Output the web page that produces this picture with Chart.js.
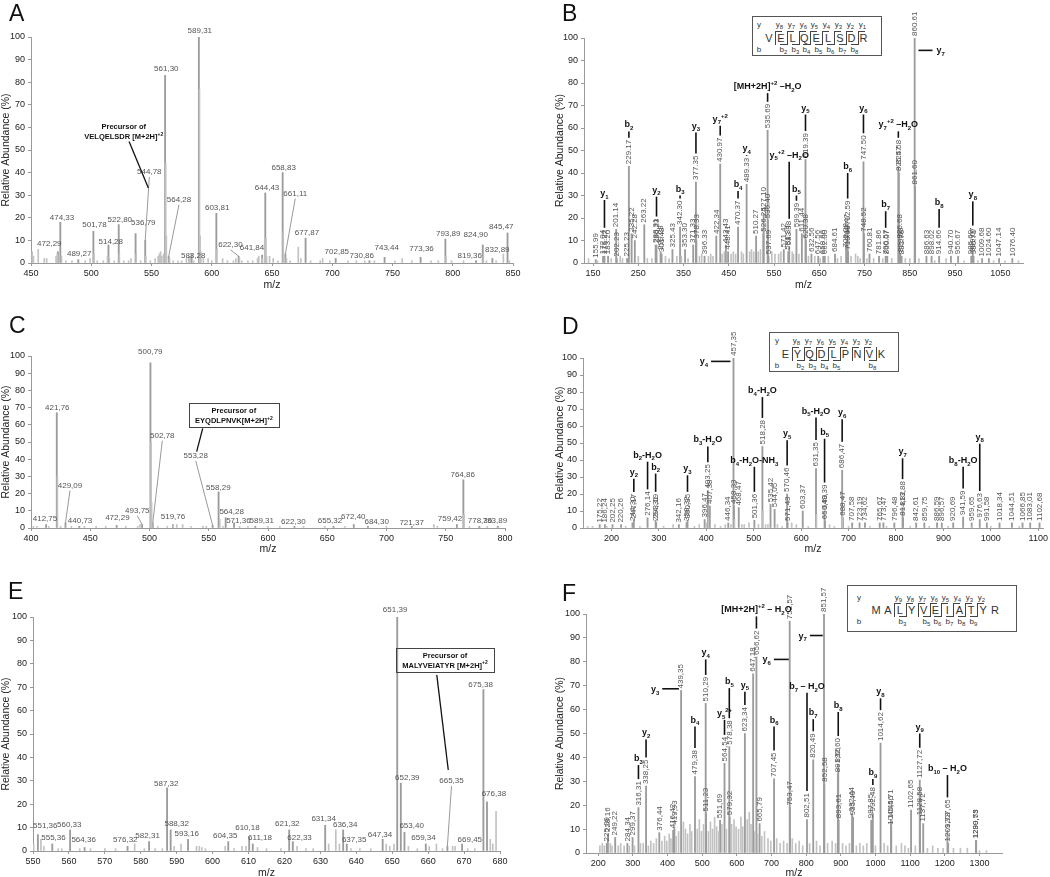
<!DOCTYPE html>
<html>
<head>
<meta charset="utf-8">
<title>MS/MS spectra A-F</title>
<script src="https://cdn.jsdelivr.net/npm/chart.js@4.4.1/dist/chart.umd.min.js"></script>
<style>
  html, body { margin: 0; padding: 0; background: #fff; }
  #fig { position: relative; width: 1050px; height: 877px; overflow: hidden; font-family: "Liberation Sans", Arial, sans-serif; -webkit-font-smoothing: antialiased; }
  #fig canvas { position: absolute; }
  .letter { position: absolute; font-size: 23px; line-height: 23px; color: #111; z-index: 2; }
  .inset { position: absolute; border: 1px solid #555; background: #fff; z-index: 2; box-sizing: border-box; }
  .inset span { position: absolute; transform: translate(-50%, -50%); white-space: nowrap; color: #333; line-height: 1; }
  .inset .res { font-size: 11px; }
  .inset .ion { font-size: 8px; }
  .inset sub { font-size: 6px; vertical-align: -2px; }
  .inset i { position: absolute; background: #444; }
</style>
</head>
<body>
<div id="fig">
  <canvas id="chartA"></canvas>
  <canvas id="chartB"></canvas>
  <canvas id="chartC"></canvas>
  <canvas id="chartD"></canvas>
  <canvas id="chartE"></canvas>
  <canvas id="chartF"></canvas>
  <div class="letter" style="left:9px;top:2px">A</div>
  <div class="letter" style="left:562px;top:2px">B</div>
  <div class="letter" style="left:9px;top:314px">C</div>
  <div class="letter" style="left:562px;top:315px">D</div>
  <div class="letter" style="left:8px;top:580px">E</div>
  <div class="letter" style="left:562px;top:582px">F</div>
  <div class="inset" id="seqB"></div>
  <div class="inset" id="seqD"></div>
  <div class="inset" id="seqF"></div>
</div>
<script>
const FONT = '"Liberation Sans", Arial, sans-serif'
Chart.defaults.font.family = FONT
Chart.defaults.color = '#222'

const yTicks = [0, 10, 20, 30, 40, 50, 60, 70, 80, 90, 100]

// ---- panel A : MS of VELQELSDR precursor region
const aTicks = [450, 500, 550, 600, 650, 700, 750, 800, 850]
const aPeakMz = [472.29, 474.33, 489.27, 501.78, 514.28, 522.80, 536.79, 544.78, 561.30, 564.28, 583.28, 589.31, 603.81, 622.30, 641.84, 644.43, 658.83, 661.11, 677.87, 702.85, 730.86, 743.44, 773.36, 793.89, 819.36, 824.90, 832.89, 845.47]
const aPeakAbund = [5, 18, 1.5, 14, 8, 17, 13, 10, 83, 3, 4, 100, 22, 3, 3.5, 31, 40, 4, 11, 2, 1, 2.5, 2.5, 10.6, 1, 8, 2, 13.3]
const aLabelMz = [465.2, 475.7, 490, 502.7, 516.2, 523.7, 543.2, 548.2, 562.3, 572.8, 584.6, 590.1, 604.5, 615.5, 633.4, 645.9, 659.7, 669.3, 679, 703.8, 724.5, 745.2, 774.1, 796.2, 814.1, 819.1, 837, 840.3]
const aLabelAbund = [8.4, 19.9, 4.1, 16.7, 9.3, 18.9, 18, 40.3, 86, 28, 3, 102.8, 24.3, 8.1, 6.6, 33.2, 42.3, 30.7, 13.3, 4.9, 3, 6.6, 6.2, 13, 3.2, 12.4, 5.9, 15.9]
const aLeaders = [544.78, 564.28, 661.11, 622.30]
const aMinor = [[451, 5], [452, 3], [456, 6], [461, 2], [463, 2], [470.8, 3], [471.8, 4], [475.3, 3], [479, 1], [484, 1], [495, 1], [499, 2], [502.3, 4], [505, 1], [510, 1], [513.5, 3], [515, 2], [519, 1], [523.3, 4], [527, 1], [531, 1], [533, 2], [537.3, 4], [541, 1], [545.3, 3], [549, 1], [553, 2], [555.5, 3], [556.5, 4], [557.5, 5], [558.5, 3], [560, 4], [561.8, 44], [562.3, 12], [565, 2], [568, 1], [572, 1], [575, 1], [579, 2], [581, 3], [582, 3], [585, 1], [589.81, 77], [590.3, 12], [591, 5], [593, 2], [597, 2], [600, 1], [604.3, 6], [609, 2], [613, 1], [618, 1], [620, 2], [623, 2], [625, 1], [630, 1], [634, 1], [638, 2], [639, 3], [642, 2], [644.93, 11], [645.5, 3], [648, 3], [651, 2], [655, 1], [659.33, 14], [662, 2], [665, 1], [671.8, 7], [674, 2], [682, 1], [690, 1], [692, 2], [698, 1], [713, 1], [720, 1], [727, 1], [735, 1], [752, 1], [758, 2], [766, 1], [782, 1], [788, 1], [794.4, 3], [799, 1], [809, 1], [825.4, 3], [828, 1], [836, 1], [842, 4], [847, 1]]
const aNotes = [{ lines: ['Precursor of', 'VELQELSDR [M+2H]^{+2}'], x: 527, y: 58.3, box: false, leader: [531.4, 53.8, 547.4, 33.2] }]

// ---- panel B : MS/MS of VELQELSDR
const bTicks = [150, 250, 350, 450, 550, 650, 750, 850, 950, 1050]
const bPeakMz = [155.99, 172.04, 175.22, 183.20, 201.14, 202.23, 225.23, 229.17, 235.22, 242.28, 263.22, 288.31, 290.23, 299.28, 301.48, 325.43, 342.30, 353.30, 371.33, 377.35, 378.33, 396.33, 422.34, 430.97, 443.43, 448.41, 470.37, 489.33, 510.27, 526.24, 527.10, 535.69, 536.40, 537.69, 571.42, 581.34, 583.38, 599.39, 611.44, 619.39, 620.38, 632.56, 647.56, 658.66, 662.00, 684.61, 709.28, 710.47, 712.59, 713.58, 747.50, 748.52, 760.81, 781.86, 796.57, 800.07, 824.58, 825.57, 826.68, 829.03, 831.76, 860.61, 861.60, 886.63, 898.02, 914.66, 940.70, 956.67, 985.69, 989.07, 990.71, 1009.68, 1024.60, 1047.14, 1076.40]
const bPeakAbund = [1.5, 3, 3, 3, 15, 2, 2, 43, 13, 10, 17, 8, 8, 5, 4, 6, 16, 6, 8, 36, 10, 3, 12, 44, 8, 5, 16, 35, 12, 13, 22, 59, 19, 3, 6, 5, 7, 15, 13, 46, 10, 4, 3, 3, 3, 4, 6, 10, 16, 5, 45, 13, 4, 3, 3, 3, 43, 40, 10, 4, 3, 100, 34, 3, 3, 3, 3, 3, 3, 4, 3, 2, 2, 2, 2]
const bMinor = [[140, 2], [160, 1], [190, 2], [210, 3], [215, 2], [250, 3], [270, 2], [280, 2], [310, 3], [318, 2], [335, 3], [345, 3], [360, 2], [385, 3], [390, 4], [405, 3], [410, 4], [415, 3], [435, 4], [440, 5], [455, 4], [460, 5], [465, 4], [478, 5], [482, 4], [496, 5], [500, 6], [505, 5], [515, 5], [520, 6], [545, 5], [552, 4], [560, 4], [565, 5], [590, 5], [593, 4], [605, 4], [626, 3], [640, 3], [652, 2], [670, 3], [690, 2], [698, 3], [720, 3], [730, 4], [735, 3], [740, 2], [755, 2], [770, 2], [790, 2], [810, 2], [840, 2], [850, 2], [870, 2], [905, 1], [930, 2], [970, 1], [1000, 1], [1035, 1], [1060, 1], [1090, 1]]
const bIons = [['y_{1}', 175.22, 28], ['b_{2}', 229.17, 58.5], ['y_{2}', 290.23, 29.5], ['b_{3}', 342.30, 30], ['y_{3}', 377.35, 58], ['y_{7}^{+2}', 430.97, 61], ['b_{4}', 470.37, 32], ['y_{4}', 489.33, 48], ['[MH+2H]^{+2} \u2013H_{2}O', 535.69, 75.5], ['y_{5}^{+2} \u2013H_{2}O', 583.38, 45], ['b_{5}', 599.39, 30], ['y_{5}', 619.39, 66], ['b_{6}', 712.59, 40], ['y_{6}', 747.50, 66], ['b_{7}', 796.57, 23], ['y_{7}^{+2} \u2013H_{2}O', 824.58, 58.5], ['b_{8}', 914.66, 24], ['y_{8}', 989.07, 27.4]]
const bHIons = [{ text: 'y_{7}', y: 94.5, x1: 869, x2: 900, side: 'right' }]
const bResidues = ['V', 'E', 'L', 'Q', 'E', 'L', 'S', 'D', 'R']
const bYSeq = [8, 7, 6, 5, 4, 3, 2, 1]
const bBSeq = [null, 2, 3, 4, 5, 6, 7, 8]

// ---- panel C : MS of EYQDLPNVK precursor region
const cTicks = [400, 450, 500, 550, 600, 650, 700, 750, 800]
const cPeakMz = [412.75, 421.76, 429.09, 440.73, 472.29, 493.75, 500.79, 502.78, 519.76, 553.28, 558.29, 564.28, 571.36, 589.31, 622.30, 655.32, 672.40, 684.30, 721.37, 759.42, 764.86, 778.36, 793.89]
const cPeakAbund = [2, 67, 3, 1, 1.5, 2, 96, 3, 2, 1.5, 21, 6, 3, 1, 1, 1, 2, 1, 1, 2, 28, 1, 1]
const cLabelMz = [411.8, 422.2, 432.9, 441.4, 472.9, 489.7, 500.7, 510.8, 519.8, 539, 558.1, 569.3, 575, 594.7, 621.4, 652.3, 672, 691.7, 721.2, 753.6, 764.3, 778.9, 791.5]
const cLabelAbund = [5.2, 70, 24.7, 4.4, 6, 10, 102.7, 53.7, 6.8, 42, 23.4, 9.5, 4, 4, 3.7, 4, 6.8, 3.7, 2.9, 5.6, 30.9, 4, 4]
const cLeaders = [429.09, 493.75, 502.78, 553.28]
const cMinor = [[402, 1], [405, 1], [415, 1], [422.3, 30], [425, 1], [434, 1], [445, 1], [455, 1], [463, 1], [480, 1], [490, 1], [492, 2], [501.3, 50], [501.8, 15], [507, 1], [515, 1], [520, 2], [523, 2], [528, 2], [535, 1], [545, 1], [548, 1], [559.3, 5], [562, 1], [576, 1], [583, 1], [600, 1], [610, 1], [630, 1], [648, 1], [665, 1], [700, 1], [740, 2], [743, 1], [765.4, 8], [770, 1], [785, 1]]
const cNotes = [{ lines: ['Precursor of', 'EYQDLPNVK[M+2H]^{+2}'], x: 571.2, y: 65.6, box: true, leader: [544.9, 57.9, 539.8, 44.4] }]

// ---- panel D : MS/MS of EYQDLPNVK
const dTicks = [200, 300, 400, 500, 600, 700, 800, 900, 1000, 1100]
const dPeakMz = [175.22, 186.24, 202.25, 220.26, 244.30, 247.17, 276.14, 293.19, 294.31, 342.16, 358.32, 360.35, 396.47, 403.25, 407.38, 446.34, 457.35, 458.33, 468.47, 501.36, 518.28, 535.42, 544.05, 570.46, 571.43, 603.37, 631.35, 649.39, 650.40, 686.47, 688.47, 707.58, 723.19, 734.62, 765.67, 773.47, 796.48, 813.88, 814.82, 842.61, 859.75, 886.59, 896.57, 920.69, 941.59, 959.65, 976.63, 991.58, 1018.34, 1044.51, 1066.85, 1083.01, 1102.68]
const dPeakAbund = [2, 2, 2, 2, 3, 4.5, 6, 4.5, 3, 2, 3, 4.5, 5, 22, 13, 3, 100, 13, 12, 4.5, 48, 14, 11, 20, 3, 10, 35, 10, 4, 34, 6, 3, 3, 3, 3, 3, 3, 12, 6, 3, 3, 3, 3, 3, 6.5, 3, 5, 3, 3, 3, 3, 3, 3]
const dMinor = [[150, 1], [160, 1], [190, 1], [230, 1], [260, 1], [310, 1], [330, 2], [375, 1], [385, 2], [400, 3], [404.3, 6], [418, 2], [430, 1], [440, 2], [452, 2], [459.3, 5], [475, 2], [480, 2], [490, 3], [510, 2], [519.3, 10], [525, 2], [530, 2], [550, 2], [560, 1], [580, 3], [590, 2], [615, 1], [632.3, 8], [660, 2], [670, 1], [687.5, 8], [700, 1], [745, 1], [780, 1], [830, 1], [870, 1], [910, 1], [960, 1], [1000, 1], [1060, 1]]
const dIons = [['y_{2}', 247.17, 29], ['b_{2}-H_{2}O', 276.14, 39], ['b_{2}', 293.19, 32], ['y_{3}', 360.35, 31], ['b_{3}-H_{2}O', 403.25, 48], ['b_{4}-H_{2}O-NH_{3}', 501.36, 36], ['b_{4}-H_{2}O', 518.28, 77], ['y_{5}', 570.46, 51.6], ['b_{5}-H_{2}O', 631.35, 65], ['b_{5}', 649.39, 52.5], ['y_{6}', 686.47, 64], ['y_{7}', 813.88, 41], ['b_{8}-H_{2}O', 941.59, 36], ['y_{8}', 976.63, 49.6]]
const dHIons = [{ text: 'y_{4}', y: 98, x1: 410, x2: 451, side: 'left' }]
const dResidues = ['E', 'Y', 'Q', 'D', 'L', 'P', 'N', 'V', 'K']
const dYSeq = [8, 7, 6, 5, 4, 3, 2, null]
const dBSeq = [null, 2, 3, 4, 5, null, null, 8]

// ---- panel E : MS of MALYVEIATYR precursor region
const eTicks = [550, 560, 570, 580, 590, 600, 610, 620, 630, 640, 650, 660, 670, 680]
const ePeakMz = [551.36, 555.36, 560.33, 564.36, 576.32, 582.31, 587.32, 588.32, 593.16, 604.35, 610.18, 611.18, 621.32, 622.33, 631.34, 636.34, 637.35, 647.34, 651.39, 652.39, 653.40, 659.34, 665.35, 669.45, 675.38, 676.38]
const ePeakAbund = [7, 3, 9, 1.5, 2, 4, 27, 9, 5, 4, 6, 3, 9, 4, 11, 9, 3, 5, 100, 29, 8, 3, 2, 3, 69, 21]
const eLabelMz = [553.4, 555.7, 560.1, 564.1, 575.7, 581.9, 587.1, 590, 592.8, 603.5, 609.7, 613.2, 620.8, 624.2, 630.9, 636.9, 639.4, 646.6, 650.8, 654.2, 655.4, 658.7, 666.5, 671.6, 674.6, 678.3]
const eLabelAbund = [10.7, 5.7, 11.4, 4.9, 4.9, 6.7, 28.6, 11.7, 7.4, 6.6, 9.9, 5.7, 11.6, 5.7, 13.7, 11.1, 4.9, 7.1, 102.9, 31.1, 10.6, 5.7, 29.9, 4.9, 70.9, 24.6]
const eLeaders = [665.35]
const eMinor = [[550.2, 3], [552.2, 5], [553, 2], [557, 1], [558, 1], [563, 1], [566, 1], [570, 1], [573, 1], [578.3, 3], [581, 1], [584, 1], [586, 1], [589.3, 2], [591.2, 3], [595.5, 2], [596.3, 2], [597, 1.5], [598, 1], [603.5, 2], [606, 1], [608.2, 2], [609.3, 2], [612.5, 1.5], [615, 1], [619, 1], [623.5, 2], [626, 1], [628, 1], [632.3, 3], [634.3, 9], [635.3, 3], [638.5, 1], [641, 1], [644, 1], [648.3, 3], [649.3, 2], [650.5, 3], [654.5, 2], [657, 1], [660.3, 2], [662.3, 3], [664, 1], [666.8, 2], [667.5, 2], [671, 1], [673, 1], [677.3, 5], [678, 3], [678.9, 17]]
const eNotes = [{ lines: ['Precursor of', 'MALYVEIATYR [M+2H]^{+2}'], x: 664.7, y: 81.7, box: true, leader: [662.4, 75.3, 665.6, 34.6] }]

// ---- panel F : MS/MS of MALYVEIATYR
const fTicks = [200, 300, 400, 500, 600, 700, 800, 900, 1000, 1100, 1200, 1300]
const fPeakMz = [225.09, 228.16, 249.22, 284.34, 299.37, 316.31, 338.25, 376.44, 416.42, 419.93, 439.35, 479.38, 510.29, 511.23, 551.69, 564.54, 578.38, 579.32, 623.34, 647.18, 656.62, 665.79, 707.45, 752.57, 753.47, 802.51, 820.49, 851.57, 852.58, 891.56, 892.60, 893.61, 932.44, 935.40, 987.85, 992.48, 1014.62, 1044.71, 1045.56, 1102.65, 1127.72, 1128.58, 1137.72, 1207.65, 1209.73, 1289.73, 1290.55]
const fPeakAbund = [4, 8, 6.5, 4, 6.5, 19, 28, 8.5, 9.5, 11, 68, 32, 62.6, 16.5, 13.7, 37.5, 44.5, 15, 50, 75, 82, 12.3, 31, 97, 19, 14, 39, 100, 29, 33, 37, 13.7, 16.5, 15, 13.7, 16.5, 46, 13.7, 11, 18, 30.5, 15, 12.3, 9.5, 4, 5.3, 5.3]
const fMinor = [[205, 3], [212, 4], [218, 3], [235, 4], [240, 3], [258, 3], [265, 4], [275, 3], [290, 3], [305, 3], [322, 4], [330, 4], [345, 3], [352, 5], [360, 4], [368, 6], [384, 5], [392, 7], [398, 5], [405, 8], [410, 6], [425, 7], [432, 9], [446, 13], [452, 10], [458, 8], [465, 12], [470, 9], [486, 10], [492, 14], [498, 9], [504, 12], [518, 9], [524, 13], [530, 10], [536, 15], [542, 11], [548, 9], [557, 12], [570, 10], [585, 12], [592, 14], [598, 11], [605, 10], [612, 15], [617, 11], [630, 14], [636, 17], [641, 12], [652, 9], [660, 8], [672, 7], [680, 9], [690, 6], [698, 5], [715, 6], [725, 4], [735, 5], [745, 4], [760, 6], [770, 4], [780, 5], [790, 3], [810, 4], [830, 5], [840, 3], [862, 4], [875, 5], [885, 4], [905, 4], [915, 3], [925, 4], [945, 3], [955, 4], [965, 3], [975, 4], [1000, 3], [1025, 4], [1035, 3], [1060, 3], [1075, 4], [1085, 3], [1095, 2], [1115, 3], [1150, 2], [1165, 3], [1180, 2], [1195, 2], [1225, 2], [1245, 2], [1265, 2], [1300, 1], [1320, 1]]
const fIons = [['b_{3}', 316.31, 36.8], ['y_{2}', 338.25, 47.5], ['b_{4}', 479.38, 52.9], ['y_{4}', 510.29, 81], ['y_{5}^{2+}', 564.54, 55.7], ['b_{5}', 578.38, 69], ['y_{5}', 623.34, 67.5], ['[MH+2H]^{+2} \u2013 H_{2}O', 656.62, 99], ['b_{6}', 707.45, 52.9], ['b_{7} \u2013 H_{2}O', 802.51, 67], ['b_{7}', 820.49, 56], ['b_{8}', 892.60, 59], ['b_{9}', 992.48, 31], ['y_{8}', 1014.62, 64.7], ['y_{9}', 1127.72, 50], ['b_{10} \u2013 H_{2}O', 1207.65, 32.6]]
const fHIons = [{ text: 'y_{3}', y: 68.7, x1: 385, x2: 433, side: 'left' }, { text: 'y_{6}', y: 81, x1: 707, x2: 750, side: 'left' }, { text: 'y_{7}', y: 91, x1: 811, x2: 848, side: 'left' }]
const fResidues = ['M', 'A', 'L', 'Y', 'V', 'E', 'I', 'A', 'T', 'Y', 'R']
const fYSeq = [null, 9, 8, 7, 6, 5, 4, 3, 2, null]
const fBSeq = [null, null, 3, null, 5, 6, 7, 8, 9, null]

function fmt(v, sep) {
    return v.toFixed(2).replace('.', sep)
}

// text with _{sub} and ^{sup} parts, bold
function drawRich(ctx, str, x, y, align, size) {
    const parts = []
    const re = /_\{([^}]*)\}|\^\{([^}]*)\}|([^_^]+)/g
    let m
    while ((m = re.exec(str))) {
        if (m[1] !== undefined) parts.push({ t: m[1], k: 'sub' })
        else if (m[2] !== undefined) parts.push({ t: m[2], k: 'sup' })
        else parts.push({ t: m[3], k: 'n' })
    }
    const big = 'bold ' + size + 'px ' + FONT
    const small = 'bold ' + Math.round(size * 0.68) + 'px ' + FONT
    let w = 0
    parts.forEach(p => { ctx.font = p.k === 'n' ? big : small; p.w = ctx.measureText(p.t).width; w += p.w })
    let cx = align === 'center' ? x - w / 2 : align === 'right' ? x - w : x
    ctx.textAlign = 'left'
    ctx.textBaseline = 'alphabetic'
    parts.forEach(p => {
        ctx.font = p.k === 'n' ? big : small
        const dy = p.k === 'sub' ? size * 0.3 : p.k === 'sup' ? -size * 0.45 : 0
        ctx.fillText(p.t, cx, y + dy)
        cx += p.w
    })
    return w
}

function annotate(p) {
    return {
        id: 'annot' + p.id,
        afterDatasetsDraw(chart) {
            const ctx = chart.ctx
            const X = v => chart.scales.x.getPixelForValue(v)
            const Y = v => chart.scales.y.getPixelForValue(v)
            ctx.save()
            const labelTop = {}
            ctx.fillStyle = '#555'
            ctx.strokeStyle = '#999'
            ctx.lineWidth = 1
            p.mz.forEach((m, i) => {
                ctx.font = '8px ' + FONT
                const text = fmt(m, p.sep)
                if (p.vertical) {
                    const x = X(m), y0 = Y(p.abund[i]) - 2
                    const w = ctx.measureText(text).width
                    ctx.save()
                    ctx.translate(x, y0)
                    ctx.rotate(-Math.PI / 2)
                    ctx.textAlign = 'left'
                    ctx.textBaseline = 'middle'
                    ctx.fillText(text, 0, 0)
                    ctx.restore()
                    labelTop[m] = y0 - w
                } else {
                    const lx = X(p.labelMz[i]), ly = Y(p.labelAbund[i])
                    ctx.textAlign = 'center'
                    ctx.textBaseline = 'middle'
                    ctx.fillText(text, lx, ly)
                    if (p.leaders && p.leaders.includes(m)) {
                        ctx.beginPath()
                        ctx.moveTo(lx, ly + 5)
                        ctx.lineTo(X(m), Y(p.abund[i]))
                        ctx.stroke()
                    }
                }
            })
            // ion lines with labels
            ctx.fillStyle = '#111'
            ctx.strokeStyle = '#111'
            ctx.lineWidth = 1.6;
            (p.ions || []).forEach(([text, m, top]) => {
                const x = X(m), yt = Y(top)
                const idx = p.mz.indexOf(m)
                const yb = labelTop[m] !== undefined ? labelTop[m] - 2 : Y(p.abund[idx])
                ctx.beginPath()
                ctx.moveTo(x, yt)
                ctx.lineTo(x, yb)
                ctx.stroke()
                drawRich(ctx, text, x, yt - 4, 'center', 9)
            });
            (p.hIons || []).forEach(h => {
                const y = Y(h.y)
                ctx.beginPath()
                ctx.moveTo(X(h.x1), y)
                ctx.lineTo(X(h.x2), y)
                ctx.stroke()
                if (h.side === 'left') drawRich(ctx, h.text, X(h.x1) - 3, y + 3, 'right', 9)
                else drawRich(ctx, h.text, X(h.x2) + 4, y + 3, 'left', 9)
            });
            // precursor notes
            (p.notes || []).forEach(n => {
                const cx = X(n.x), cy = Y(n.y)
                const lh = 9.5
                const y0 = cy - lh * (n.lines.length - 1) / 2
                let wMax = 0
                n.lines.forEach((t, k) => { wMax = Math.max(wMax, drawRich(ctx, t, cx, y0 + k * lh + 3, 'center', 7.5)) })
                if (n.box) {
                    ctx.lineWidth = 1
                    ctx.strokeStyle = '#444'
                    ctx.strokeRect(Math.round(cx - wMax / 2 - 6) + 0.5, Math.round(y0 - 7) + 0.5, Math.round(wMax + 12), Math.round(lh * n.lines.length + 5))
                }
                ctx.strokeStyle = '#111'
                ctx.lineWidth = 1.3
                ctx.beginPath()
                ctx.moveTo(X(n.leader[0]), Y(n.leader[1]))
                ctx.lineTo(X(n.leader[2]), Y(n.leader[3]))
                ctx.stroke()
            })
            ctx.restore()
        }
    }
}

function buildChart(p) {
    const cv = document.getElementById(p.id)
    const [bx, by, bw, bh] = p.box
    const [L, T, R, B] = p.plot
    cv.width = bw
    cv.height = bh
    Object.assign(cv.style, { left: bx + 'px', top: by + 'px', width: bw + 'px', height: bh + 'px' })
    const half = 6.3
    const padLeft = Math.max(0, p.titleX - bx - half)
    const yW = L - bx - padLeft
    const xH = by + bh - B
    const labeled = p.mz.map((m, i) => ({ x: m, y: p.abund[i] }))
    const minor = p.minor.map(([m, a]) => ({ x: m, y: a }))
    return new Chart(cv, {
        type: 'bar',
        data: {
            datasets: [
                { data: minor, backgroundColor: '#c2c2c2', barThickness: 1, grouped: false },
                { data: labeled, backgroundColor: '#9c9c9c', barThickness: 1.2, grouped: false }
            ]
        },
        options: {
            responsive: false,
            animation: false,
            devicePixelRatio: 1,
            layout: { padding: { left: padLeft, top: T - by, right: bx + bw - R, bottom: 0 } },
            plugins: { legend: { display: false }, tooltip: { enabled: false } },
            scales: {
                x: {
                    type: 'linear', min: p.xMin, max: p.xMax, offset: false,
                    afterBuildTicks: s => { s.ticks = p.xTicks.map(v => ({ value: v })) },
                    afterFit: s => { s.height = xH; s.paddingLeft = 0; s.paddingRight = 0 },
                    grid: { offset: false, drawOnChartArea: false, tickLength: 3, color: '#999' },
                    border: { color: '#999' },
                    ticks: { font: { size: 9 }, padding: 2, maxRotation: 0, autoSkip: false, color: '#222', callback: v => String(v) },
                    title: { display: true, text: 'm/z', font: { size: 10.5 }, padding: 0, color: '#222' }
                },
                y: {
                    min: 0, max: 100,
                    afterBuildTicks: s => { s.ticks = yTicks.map(v => ({ value: v })) },
                    afterFit: s => { s.width = yW; s.paddingTop = 0; s.paddingBottom = 0 },
                    grid: { drawOnChartArea: false, tickLength: 3, color: '#999' },
                    border: { color: '#999' },
                    ticks: { font: { size: 9 }, padding: 3, color: '#222', callback: v => String(v) },
                    title: { display: true, text: 'Relative Abundance (%)', font: { size: 10.5 }, padding: 0, color: '#222' }
                }
            }
        },
        plugins: [annotate(p)]
    })
}

function buildInset(id, box, residues, ySeq, bSeq, x0, step, rows) {
    const el = document.getElementById(id)
    const [bx, by, bw, bh] = box
    Object.assign(el.style, { left: bx + 'px', top: by + 'px', width: bw + 'px', height: bh + 'px' })
    const [rowY, rowRes, rowB, labX] = rows
    const add = (html, cls, x, y) => {
        const s = document.createElement('span')
        s.className = cls
        s.innerHTML = html
        s.style.left = x + 'px'
        s.style.top = y + 'px'
        el.appendChild(s)
    }
    const line = (x, y, w, h) => {
        const d = document.createElement('i')
        Object.assign(d.style, { left: x + 'px', top: y + 'px', width: w + 'px', height: h + 'px' })
        el.appendChild(d)
    }
    add('y', 'ion', labX, rowY)
    add('b', 'ion', labX, rowB)
    residues.forEach((r, i) => add(r, 'res', x0 + i * step, rowRes))
    const top = rowRes - 7, bot = rowRes + 6, stub = Math.round(step * 0.6)
    for (let k = 1; k < residues.length; k++) {
        const yi = ySeq[k - 1], bi = bSeq[k - 1]
        if (yi == null && bi == null) continue
        const cx = Math.round(x0 + (k - 0.5) * step)
        line(cx, top, 1, bot - top + 1)
        if (yi != null) { line(cx, top, stub, 1); add('y<sub>' + yi + '</sub>', 'ion', cx + stub / 2 + 1, rowY) }
        if (bi != null) { line(cx - stub, bot, stub, 1); add('b<sub>' + bi + '</sub>', 'ion', cx - stub / 2, rowB) }
    }
}

buildChart({ id: 'chartA', box: [0, 0, 525, 291], plot: [31, 37, 513, 263], titleX: 6, xMin: 450, xMax: 850, xTicks: aTicks,
    mz: aPeakMz, abund: aPeakAbund, labelMz: aLabelMz, labelAbund: aLabelAbund, leaders: aLeaders, minor: aMinor, sep: ',', notes: aNotes })
buildChart({ id: 'chartB', box: [525, 0, 525, 291], plot: [584, 38, 1023, 263], titleX: 560, xMin: 130, xMax: 1100, xTicks: bTicks,
    mz: bPeakMz, abund: bPeakAbund, minor: bMinor, sep: '.', vertical: true, ions: bIons, hIons: bHIons })
buildChart({ id: 'chartC', box: [0, 290, 525, 265], plot: [31, 356, 505, 528], titleX: 6, xMin: 400, xMax: 800, xTicks: cTicks,
    mz: cPeakMz, abund: cPeakAbund, labelMz: cLabelMz, labelAbund: cLabelAbund, leaders: cLeaders, minor: cMinor, sep: ',', notes: cNotes })
buildChart({ id: 'chartD', box: [525, 290, 525, 265], plot: [583, 358, 1043, 528], titleX: 560, xMin: 140, xMax: 1110, xTicks: dTicks,
    mz: dPeakMz, abund: dPeakAbund, minor: dMinor, sep: ',', vertical: true, ions: dIons, hIons: dHIons })
buildChart({ id: 'chartE', box: [0, 580, 525, 299], plot: [33, 617, 500, 851], titleX: 6, xMin: 550, xMax: 680, xTicks: eTicks,
    mz: ePeakMz, abund: ePeakAbund, labelMz: eLabelMz, labelAbund: eLabelAbund, leaders: eLeaders, minor: eMinor, sep: ',', notes: eNotes })
buildChart({ id: 'chartF', box: [525, 580, 525, 299], plot: [586, 614, 1002, 853], titleX: 560, xMin: 165, xMax: 1365, xTicks: fTicks,
    mz: fPeakMz, abund: fPeakAbund, minor: fMinor, sep: ',', vertical: true, ions: fIons, hIons: fHIons })

buildInset('seqB', [752, 16, 130, 40], bResidues, bYSeq, bBSeq, 16, 11.8, [8, 21, 33, 6])
buildInset('seqD', [769, 332, 130, 40], dResidues, dYSeq, dBSeq, 15.5, 12, [8, 21, 33, 7])
buildInset('seqF', [847, 585, 170, 47], fResidues, fYSeq, fBSeq, 28, 11.9, [12, 24, 36, 11])
</script>
</body>
</html>
